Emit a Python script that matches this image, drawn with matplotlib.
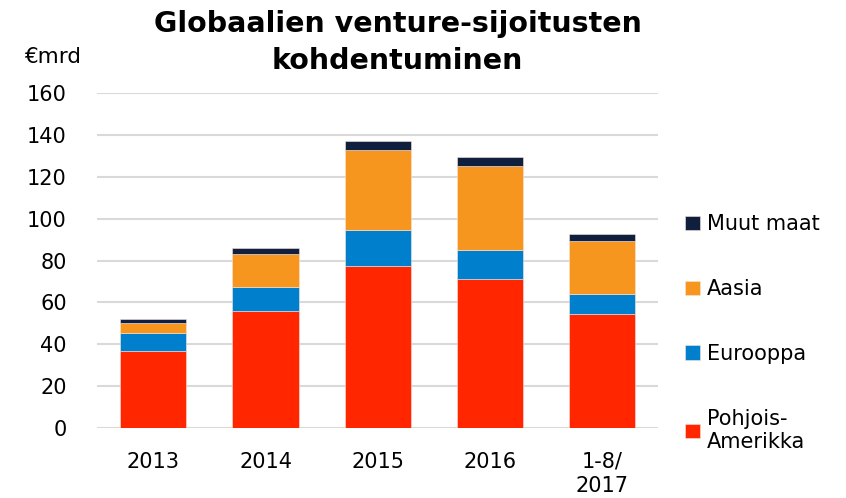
import matplotlib.pyplot as plt
import numpy as np

# values in €mrd
years = ["2013", "2014", "2015", "2016", "1-8/\n2017"]
pohjois_amerikka = [36.9, 56.1, 77.4, 71.0, 54.7]
eurooppa = [8.5, 11.5, 17.1, 13.9, 9.1]
aasia = [4.8, 15.4, 38.5, 40.4, 25.6]
muut_maat = [2.1, 3.0, 4.3, 4.2, 3.2]

series = [
    ("Pohjois-\nAmerikka", pohjois_amerikka, "#FF2600"),
    ("Eurooppa", eurooppa, "#0080CC"),
    ("Aasia", aasia, "#F7961E"),
    ("Muut maat", muut_maat, "#0F1F3D"),
]

plt.rcParams["font.family"] = ["DejaVu Sans"]

fig = plt.figure(figsize=(8.46, 4.98), dpi=100)
ax = fig.add_axes([0.115, 0.1406, 0.663, 0.6724])

x = np.arange(len(years))
bottom = np.zeros(len(years))
handles = []
for label, vals, color in series:
    bars = ax.bar(x, vals, width=0.59, bottom=bottom, color=color,
                  edgecolor="#FBE3DC", linewidth=0.4, label=label, zorder=3)
    handles.append(bars)
    bottom += np.array(vals)

ax.set_ylim(0, 160)
ax.set_xlim(-0.5, len(years) - 0.5)
ax.set_yticks(range(0, 161, 20))
ax.set_xticks(x)
ax.set_xticklabels(years, fontsize=15, linespacing=1.25)
ax.tick_params(axis="y", labelsize=15, length=0, pad=22)
ax.tick_params(axis="x", length=0, pad=17)
ax.yaxis.grid(True, color="#D9D9D9", linewidth=1.5, zorder=0)
for side in ["top", "right", "left", "bottom"]:
    ax.spines[side].set_visible(False)

fig.text(0.47, 0.915, "Globaalien venture-sijoitusten\nkohdentuminen",
         ha="center", va="center", fontsize=20.5, fontweight="bold",
         linespacing=1.4)
fig.text(0.028, 0.885, "€mrd", ha="left", va="center", fontsize=15.5)

leg = fig.legend(handles[::-1], [s[0] for s in series[::-1]],
                 loc="upper left", bbox_to_anchor=(0.788, 0.607),
                 frameon=False, fontsize=15, handlelength=0.7,
                 handleheight=0.7, handletextpad=0.35, labelspacing=2.15)

fig.savefig("out.png", dpi=100)
